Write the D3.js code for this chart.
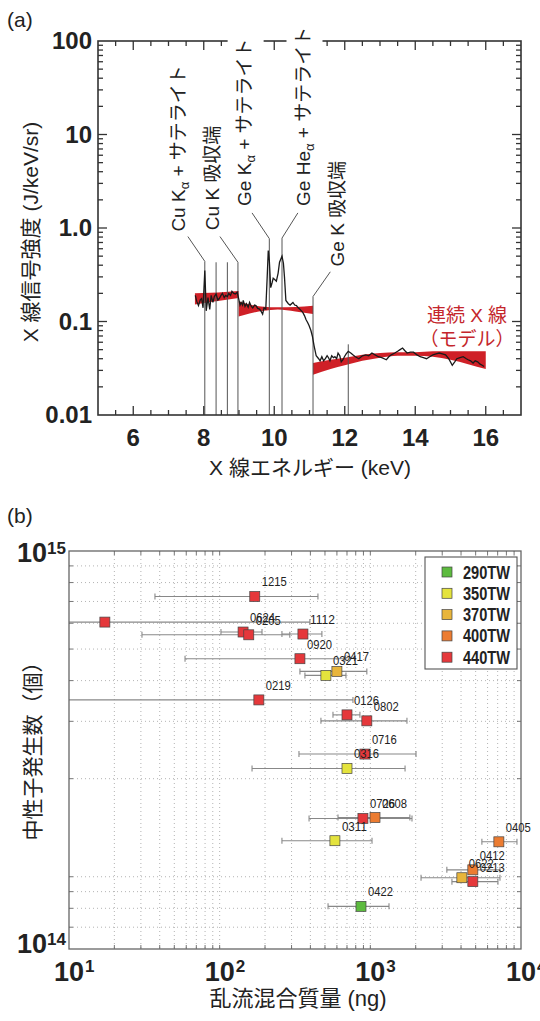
<!DOCTYPE html>
<html>
<head>
<meta charset="utf-8">
<script src="https://cdn.jsdelivr.net/npm/d3@7"></script>
<style>
  body { margin: 0; background: #fff; }
  svg text { font-family: "Liberation Sans", Arial, "Noto Sans CJK JP", sans-serif; fill: #222; }
</style>
</head>
<body>
<svg id="chart" width="540" height="1021"></svg>
<script>
// ---------- (a) spectrum ----------
var specE = [7.76,7.80,7.85,7.90,7.94,7.98,8.03,8.07,8.12,8.17,8.21,8.26,8.30,8.35,8.40,8.44,8.49,8.53,8.58,8.62,
  8.67,8.71,8.76,8.80,8.85,8.90,8.95,8.99,9.03,9.06,9.10,9.12,9.17,9.21,9.26,9.30,9.35,9.39,9.44,9.48,
  9.53,9.58,9.62,9.67,9.71,9.76,9.80,9.83,9.86,9.90,9.94,9.97,10.02,10.06,10.11,10.15,10.22,10.26,10.29,10.33,
  10.40,10.45,10.53,10.58,10.63,10.68,10.72,10.77,10.81,10.86,10.90,10.95,10.99,11.04,11.08,11.13,11.19,11.26,11.30,11.35,
  11.40,11.45,11.50,11.54,11.58,11.63,11.68,11.72,11.77,11.81,11.86,11.90,11.95,11.99,12.04,12.10,12.17,12.23,12.30,12.40,
  12.50,12.60,12.68,12.77,12.86,12.95,13.05,13.18,13.25,13.32,13.42,13.50,13.57,13.64,13.70,13.77,13.86,13.95,14.05,14.14,
  14.23,14.32,14.41,14.50,14.59,14.68,14.77,14.86,14.95,15.05,15.12,15.18,15.27,15.36,15.45,15.50,15.57,15.64,15.70,15.77,
  15.84,15.90,15.95];
var specI = [0.19,0.165,0.148,0.17,0.176,0.14,0.35,0.13,0.18,0.135,0.19,0.16,0.185,0.197,0.17,0.176,0.19,0.2,0.18,0.19,
  0.185,0.2,0.19,0.21,0.2,0.197,0.205,0.176,0.15,0.16,0.15,0.168,0.145,0.155,0.142,0.16,0.145,0.14,0.15,0.148,
  0.138,0.136,0.13,0.12,0.14,0.136,0.3,0.575,0.45,0.23,0.26,0.29,0.28,0.27,0.33,0.43,0.5,0.42,0.3,0.168,
  0.155,0.15,0.16,0.15,0.148,0.14,0.136,0.13,0.125,0.115,0.105,0.097,0.09,0.08,0.07,0.055,0.043,0.04,0.038,0.042,
  0.038,0.04,0.043,0.041,0.038,0.043,0.041,0.042,0.04,0.046,0.043,0.037,0.039,0.042,0.045,0.048,0.046,0.044,0.042,0.040,
  0.043,0.044,0.043,0.046,0.044,0.042,0.041,0.039,0.042,0.044,0.046,0.048,0.05,0.052,0.049,0.046,0.047,0.047,0.044,0.042,
  0.041,0.040,0.042,0.044,0.045,0.046,0.045,0.044,0.04,0.034,0.037,0.040,0.041,0.042,0.040,0.039,0.038,0.036,0.038,0.037,
  0.035,0.034,0.033];

// continuum model band, three segments split at the absorption edges
var band1E = [7.75, 8.2, 8.6, 8.99];
var band1Hi = [0.2, 0.203, 0.207, 0.212];
var band1Lo = [0.152, 0.162, 0.17, 0.178];
var band2E = [8.99, 9.3, 9.7, 10.1, 10.6, 11.1];
var band2Hi = [0.165, 0.152, 0.144, 0.142, 0.143, 0.147];
var band2Lo = [0.113, 0.122, 0.13, 0.134, 0.128, 0.12];
var band3E = [11.1, 11.6, 12, 12.5, 13, 13.5, 14, 14.5, 15, 15.5, 16];
var band3Hi = [0.036, 0.039, 0.041, 0.044, 0.046, 0.047, 0.047, 0.048, 0.048, 0.048, 0.048];
var band3Lo = [0.027, 0.031, 0.034, 0.038, 0.041, 0.043, 0.043, 0.042, 0.039, 0.035, 0.031];

// line markers and labels
var lineE   = [8.03, 8.35, 8.67, 8.97, 9.86, 10.22, 11.1, 12.1];
var lineTop = [0.44, 0.43, 0.43, 0.43, 0.77, 0.78, 0.185, 0.057];
var annoText = ["Cu K|α| + サテライト", "Cu K 吸収端", "Ge K|α| + サテライト", "Ge He|α| + サテライト", "Ge K 吸収端"];
var annoTextE = [7.47, 8.42, 9.33, 11.0, 11.97];   // baseline of rotated text
var annoTextV = [0.85, 0.88, 1.6, 1.6, 0.36];      // where text starts
var annoLeadE = [7.55, 8.46, 9.37, 10.67, 11.59];
var annoLeadV = [0.81, 0.81, 1.45, 1.45, 0.34];
var annoLine  = [0, 3, 4, 5, 6];                   // index into lineE

var xTicksA = [6, 8, 10, 12, 14, 16];
var yTicksA = [0.01, 0.1, 1, 10, 100];
var yTickLabA = ["0.01", "0.1", "1.0", "10", "100"];

// ---------- (b) neutron yield vs mix mass ----------
var shotId = ["1215","","0624","0205","1112","0920","0417","0321","0219","0126","0802","0716","0316","0726","0608","0311","0405","0412","0622","0213","0422"];
var shotPow = [440,440,440,440,440,440,370,350,440,440,440,440,350,440,400,350,400,400,370,440,290];
var mixMass = [171,17.3,143,156,357,341,600,507,182,700,948,920,700,893,1074,582,7130,4790,4050,4790,867];
var mixLo = [37.2,5,102,30.5,259,58.9,341,368,5,565,470,336,164,392,610,259,5500,3220,2170,3480,524];
var mixHi = [449,397,191,292,477,678,948,689,767,853,1750,2010,1700,1890,1830,1026,9400,7250,7250,7030,1330];
var neutrons = [7.25e14,6.05e14,5.64e14,5.53e14,5.56e14,4.67e14,4.27e14,4.15e14,3.49e14,3.14e14,3.01e14,2.38e14,2.15e14,
  1.51e14,1.52e14,1.29e14,1.28e14,1.05e14,0.993e14,0.966e14,0.811e14];

var powLevels = [290, 350, 370, 400, 440];
var powColors = ["#5dbb3f", "#e4e33d", "#e8b53b", "#ec7c31", "#e5383b"];
var xTickExpB = [1, 2, 3, 4];

var svg = d3.select("#chart");

// ===== panel (a) =====
var xA = d3.scaleLinear().domain([5, 17]).range([98, 521]);
var yA = d3.scaleLog().domain([0.01, 100]).range([415, 41]);
var gA = svg.append("g");

function bandArea(E, hi, lo) {
  var pts = E.map(function(e, i) { return [e, hi[i], lo[i]]; });
  gA.append("path").datum(pts)
    .attr("d", d3.area().x(function(d) { return xA(d[0]); })
      .y0(function(d) { return yA(d[2]); }).y1(function(d) { return yA(d[1]); }).curve(d3.curveMonotoneX))
    .attr("fill", "#cf2027");
}
bandArea(band1E, band1Hi, band1Lo);
bandArea(band2E, band2Hi, band2Lo);
bandArea(band3E, band3Hi, band3Lo);

// vertical marker lines
gA.selectAll(".vl").data(lineE).enter().append("line")
  .attr("x1", function(d) { return xA(d); }).attr("x2", function(d) { return xA(d); })
  .attr("y1", function(d, i) { return yA(lineTop[i]); }).attr("y2", yA(0.01))
  .attr("stroke", "#555").attr("stroke-width", 1);

gA.append("path").datum(specE)
  .attr("d", d3.line().x(function(d) { return xA(d); }).y(function(d, i) { return yA(specI[i]); }))
  .attr("fill", "none").attr("stroke", "#1a1a1a").attr("stroke-width", 1.3);

// frame and ticks
gA.append("rect").attr("x", 98).attr("y", 41).attr("width", 423).attr("height", 374)
  .attr("fill", "none").attr("stroke", "#333").attr("stroke-width", 1.6);
d3.range(5.5, 17, 0.5).forEach(function(v) {
  var len = (v % 2 === 0) ? 9 : 5;
  [[415, -1], [41, 1]].forEach(function(s) {
    gA.append("line").attr("x1", xA(v)).attr("x2", xA(v)).attr("y1", s[0]).attr("y2", s[0] + s[1] * len)
      .attr("stroke", "#333").attr("stroke-width", 1.3);
  });
});
[0.01, 0.1, 1, 10].forEach(function(dec) {
  d3.range(1, 10).forEach(function(k) {
    var v = dec * k, len = k === 1 ? 9 : 5;
    if (v <= 0.01) return;
    [[98, 1], [521, -1]].forEach(function(s) {
      gA.append("line").attr("x1", s[0]).attr("x2", s[0] + s[1] * len).attr("y1", yA(v)).attr("y2", yA(v))
        .attr("stroke", "#333").attr("stroke-width", 1.3);
    });
  });
});

// rotated annotation labels with white backing
annoText.forEach(function(txt, i) {
  var g = gA.append("g").attr("transform", "translate(" + xA(annoTextE[i]) + "," + (yA(annoTextV[i]) - 3) + ") rotate(-90)");
  var t = g.append("text").attr("font-size", 19).attr("fill", "#222");
  txt.split("|").forEach(function(p, j) {
    if (j % 2 === 1) t.append("tspan").attr("font-size", 13).attr("dy", 4).text(p);
    else t.append("tspan").attr("dy", j > 0 ? -4 : 0).text(p);
  });
  var bb = t.node().getBBox();
  g.insert("rect", "text").attr("x", bb.x - 2).attr("y", bb.y - 6).attr("width", bb.width + 6)
    .attr("height", bb.height + 12).attr("fill", "#fff");
  var li = annoLine[i];
  gA.append("line").attr("x1", xA(annoLeadE[i])).attr("y1", yA(annoLeadV[i]))
    .attr("x2", xA(lineE[li])).attr("y2", yA(lineTop[li])).attr("stroke", "#555").attr("stroke-width", 1);
});

gA.selectAll(".xl").data(xTicksA).enter().append("text")
  .attr("x", function(d) { return xA(d); }).attr("y", 446).attr("text-anchor", "middle")
  .attr("font-size", 24).attr("font-weight", "bold").text(function(d) { return d; });
gA.selectAll(".yl").data(yTicksA).enter().append("text")
  .attr("x", 92).attr("y", function(d) { return yA(d) + 8; }).attr("text-anchor", "end")
  .attr("font-size", 24).attr("font-weight", "bold").text(function(d, i) { return yTickLabA[i]; });

gA.append("text").attr("x", 310).attr("y", 475).attr("text-anchor", "middle").attr("font-size", 21)
  .text("X 線エネルギー (keV)");
gA.append("text").attr("transform", "translate(38,232) rotate(-90)").attr("text-anchor", "middle")
  .attr("font-size", 21).text("X 線信号強度 (J/keV/sr)");
gA.append("text").attr("x", 467).attr("y", 322).attr("text-anchor", "middle").attr("font-size", 19)
  .style("fill", "#c4262c").text("連続 X 線");
gA.append("text").attr("x", 467).attr("y", 346).attr("text-anchor", "middle").attr("font-size", 19)
  .style("fill", "#c4262c").text("（モデル）");
svg.append("text").attr("x", 7).attr("y", 27).attr("font-size", 21).text("(a)");

// ===== panel (b) =====
var xB = d3.scaleLog().domain([10, 1e4]).range([69, 521]);
var yB = d3.scaleLog().domain([6e13, 1e15]).range([949, 551]);
var gB = svg.append("g");

var xGrid = [];
[10, 100, 1000].forEach(function(d) { d3.range(1, 10).forEach(function(k) { if (k * d > 10) xGrid.push(k * d); }); });
var yGrid = [7e13, 8e13, 9e13];
d3.range(1, 10).forEach(function(k) { yGrid.push(k * 1e14); });

gB.selectAll(".gx").data(xGrid).enter().append("line")
  .attr("x1", function(d) { return xB(d); }).attr("x2", function(d) { return xB(d); })
  .attr("y1", 551).attr("y2", 949).attr("stroke", "#aaa").attr("stroke-width", 0.9).attr("stroke-dasharray", "1,3");
gB.selectAll(".gy").data(yGrid).enter().append("line")
  .attr("y1", function(d) { return yB(d); }).attr("y2", function(d) { return yB(d); })
  .attr("x1", 69).attr("x2", 521).attr("stroke", "#aaa").attr("stroke-width", 0.9).attr("stroke-dasharray", "1,3");
xGrid.forEach(function(v) {
  [[949, -1], [551, 1]].forEach(function(s) {
    gB.append("line").attr("x1", xB(v)).attr("x2", xB(v)).attr("y1", s[0]).attr("y2", s[0] + s[1] * 4)
      .attr("stroke", "#666").attr("stroke-width", 0.9);
  });
});
yGrid.forEach(function(v) {
  [[69, 1], [521, -1]].forEach(function(s) {
    gB.append("line").attr("y1", yB(v)).attr("y2", yB(v)).attr("x1", s[0]).attr("x2", s[0] + s[1] * 4)
      .attr("stroke", "#666").attr("stroke-width", 0.9);
  });
});

svg.append("clipPath").attr("id", "clipB").append("rect").attr("x", 69).attr("y", 551).attr("width", 452).attr("height", 398);
var gE = gB.append("g").attr("clip-path", "url(#clipB)");
mixMass.forEach(function(m, i) {
  var y = yB(neutrons[i]);
  gE.append("line").attr("x1", xB(mixLo[i])).attr("x2", xB(mixHi[i])).attr("y1", y).attr("y2", y)
    .attr("stroke", "#888").attr("stroke-width", 1.1);
  [mixLo[i], mixHi[i]].forEach(function(v) {
    gE.append("line").attr("x1", xB(v)).attr("x2", xB(v)).attr("y1", y - 3).attr("y2", y + 3)
      .attr("stroke", "#888").attr("stroke-width", 1.1);
  });
});

gB.append("rect").attr("x", 69).attr("y", 551).attr("width", 452).attr("height", 398)
  .attr("fill", "none").attr("stroke", "#666").attr("stroke-width", 1.3);

var colorOf = d3.scaleOrdinal().domain(powLevels).range(powColors);
gB.selectAll(".pt").data(mixMass).enter().append("rect")
  .attr("x", function(d) { return xB(d) - 5; }).attr("y", function(d, i) { return yB(neutrons[i]) - 5; })
  .attr("width", 10).attr("height", 10)
  .attr("fill", function(d, i) { return colorOf(shotPow[i]); }).attr("stroke", "#444").attr("stroke-width", 0.7);
gB.selectAll(".pl").data(mixMass).enter().append("text")
  .attr("x", function(d) { return xB(d) + 7; }).attr("y", function(d, i) { return yB(neutrons[i]) - 10; })
  .attr("font-size", 13).attr("textLength", function(d, i) { return shotId[i] ? 25 : null; })
  .attr("lengthAdjust", "spacingAndGlyphs").text(function(d, i) { return shotId[i]; });

// legend
var lg = gB.append("g");
lg.append("rect").attr("x", 425).attr("y", 557).attr("width", 92).attr("height", 112)
  .attr("fill", "#fff").attr("stroke", "#555").attr("stroke-width", 1.1);
powLevels.forEach(function(p, i) {
  var cy = 572 + i * 21.3;
  lg.append("rect").attr("x", 442).attr("y", cy - 5).attr("width", 10).attr("height", 10)
    .attr("fill", colorOf(p)).attr("stroke", "#444").attr("stroke-width", 0.7);
  lg.append("text").attr("x", 463).attr("y", cy + 6.5).attr("font-size", 18).attr("font-weight", "bold")
    .attr("textLength", 47).attr("lengthAdjust", "spacingAndGlyphs").text(p + "TW");
});

// log tick labels (base 10 + exponent)
xTickExpB.forEach(function(e) {
  var x = xB(Math.pow(10, e));
  gB.append("text").attr("x", x).attr("y", 981).attr("text-anchor", "middle")
    .attr("font-size", 27).attr("font-weight", "bold").text("10");
  gB.append("text").attr("x", x + 16).attr("y", 972).attr("font-size", 17).attr("font-weight", "bold").text(e);
});
[[1e15, "15", 562], [6e13, "14", 953]].forEach(function(t) {
  gB.append("text").attr("x", 47).attr("y", yB(t[0]) + (t[2] - yB(t[0]))).attr("text-anchor", "end")
    .attr("font-size", 27).attr("font-weight", "bold").text("10");
  gB.append("text").attr("x", 47).attr("y", yB(t[0]) + (t[2] - yB(t[0])) - 8).attr("font-size", 17)
    .attr("font-weight", "bold").text(t[1]);
});

gB.append("text").attr("x", 298).attr("y", 1006).attr("text-anchor", "middle").attr("font-size", 22)
  .text("乱流混合質量 (ng)");
gB.append("text").attr("transform", "translate(40,746) rotate(-90)").attr("text-anchor", "middle")
  .attr("font-size", 21).text("中性子発生数（個）");
svg.append("text").attr("x", 7).attr("y", 523).attr("font-size", 21).text("(b)");
</script>
</body>
</html>
